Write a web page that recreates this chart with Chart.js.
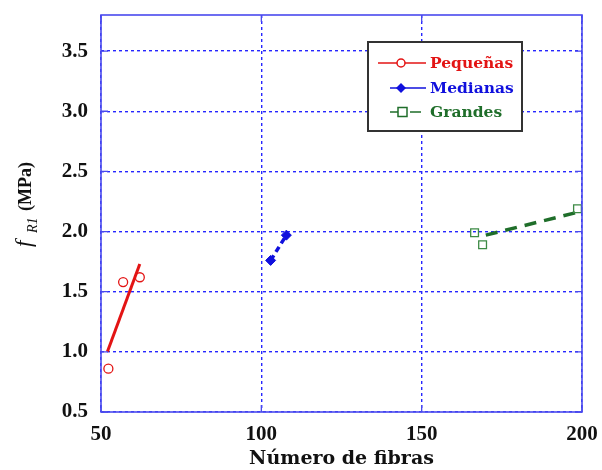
<!DOCTYPE html>
<html>
<head>
<meta charset="utf-8">
<script src="https://cdn.jsdelivr.net/npm/chart.js@4/dist/chart.umd.min.js"></script>
<style>
  html, body { margin: 0; padding: 0; background: #fff; }
  #wrap { width: 602px; height: 470px; }
</style>
</head>
<body>
<div id="wrap"><canvas id="chart" width="602" height="470"></canvas></div>
<script>
// Data
const pequenasX = [52.3, 56.9, 62.1];
const pequenasY = [0.86, 1.58, 1.62];
const pequenasFitX = [52, 62.1];
const pequenasFitY = [1.0, 1.73];

const medianasX = [102.9, 107.8];
const medianasY = [1.76, 1.97];

const grandesX = [166.5, 169.0, 198.6];
const grandesY = [1.99, 1.89, 2.19];
const grandesFitX = [170, 200];
const grandesFitY = [1.97, 2.17];

const seriesNames = ['Pequeñas', 'Medianas', 'Grandes'];
const xTicks = [50, 100, 150, 200];
const yTicks = [0.5, 1.0, 1.5, 2.0, 2.5, 3.0, 3.5];

const RED = '#e31414';
const BLUE = '#1010dd';
const GREEN = '#1f6e2a';
const GRID = '#2626ff';

const pts = (xs, ys) => xs.map((x, i) => ({ x: x, y: ys[i] }));

// frame, inner tick stubs, y title and legend box
const decorations = {
    id: 'decorations',
    afterDraw(chart) {
        const ctx = chart.ctx;
        const a = chart.chartArea;
        const xs = chart.scales.x, ys = chart.scales.y;
        ctx.save();
        ctx.strokeStyle = '#4a4aee';
        ctx.lineWidth = 1.6;
        ctx.strokeRect(a.left, a.top, a.right - a.left, a.bottom - a.top);
        ctx.lineWidth = 1.3;
        ctx.beginPath();
        xTicks.forEach(v => {
            const px = xs.getPixelForValue(v);
            ctx.moveTo(px, a.bottom); ctx.lineTo(px, a.bottom - 7);
            ctx.moveTo(px, a.top); ctx.lineTo(px, a.top + 7);
        });
        yTicks.forEach(v => {
            const py = ys.getPixelForValue(v);
            ctx.moveTo(a.left, py); ctx.lineTo(a.left + 7, py);
            ctx.moveTo(a.right, py); ctx.lineTo(a.right - 7, py);
        });
        ctx.stroke();

        // y axis title: f_R1 (MPa)
        ctx.translate(31, 0);
        ctx.rotate(-Math.PI / 2);
        ctx.fillStyle = '#111';
        ctx.textBaseline = 'alphabetic';
        ctx.textAlign = 'left';
        ctx.font = 'italic 23px "Liberation Serif"';
        ctx.fillText('f', -247, 0);
        ctx.font = 'italic 14px "Liberation Serif"';
        ctx.fillText('R1', -233, 6);
        ctx.font = 'bold 18px "Liberation Serif"';
        ctx.fillText('(MPa)', -211, 0);
        ctx.restore();

        // legend
        ctx.save();
        const bx = 368, by = 42, bw = 154, bh = 89;
        ctx.fillStyle = '#fff';
        ctx.fillRect(bx, by, bw, bh);
        ctx.strokeStyle = '#333';
        ctx.lineWidth = 2;
        ctx.strokeRect(bx, by, bw, bh);
        const rows = [63, 88, 112];
        const colors = [RED, BLUE, GREEN];
        ctx.lineWidth = 1.5;
        // Pequeñas sample
        ctx.strokeStyle = RED;
        ctx.beginPath(); ctx.moveTo(378, rows[0]); ctx.lineTo(426, rows[0]); ctx.stroke();
        ctx.fillStyle = '#fff';
        ctx.beginPath(); ctx.arc(401, rows[0], 4, 0, Math.PI * 2); ctx.fill(); ctx.stroke();
        // Medianas sample
        ctx.strokeStyle = BLUE; ctx.fillStyle = BLUE;
        ctx.beginPath(); ctx.moveTo(390, rows[1]); ctx.lineTo(426, rows[1]); ctx.stroke();
        ctx.beginPath();
        ctx.moveTo(401, rows[1] - 5); ctx.lineTo(406, rows[1]); ctx.lineTo(401, rows[1] + 5); ctx.lineTo(396, rows[1]);
        ctx.closePath(); ctx.fill();
        // Grandes sample
        ctx.strokeStyle = GREEN;
        ctx.beginPath();
        ctx.moveTo(390, rows[2]); ctx.lineTo(398, rows[2]);
        ctx.moveTo(410, rows[2]); ctx.lineTo(421, rows[2]);
        ctx.stroke();
        ctx.strokeRect(398, rows[2] - 4.5, 9, 9);
        // texts
        ctx.font = 'bold 15.5px "DejaVu Serif"';
        ctx.textBaseline = 'middle';
        ctx.textAlign = 'left';
        seriesNames.forEach((n, i) => {
            ctx.fillStyle = colors[i];
            ctx.fillText(n, 430, rows[i] + 1);
        });
        ctx.restore();
    }
};

new Chart(document.getElementById('chart'), {
    type: 'scatter',
    data: {
        datasets: [
            {
                label: seriesNames[0],
                data: pts(pequenasX, pequenasY),
                showLine: false,
                pointStyle: 'circle',
                pointRadius: 4.5,
                pointBorderWidth: 1.3,
                pointBorderColor: RED,
                pointBackgroundColor: 'rgba(255,255,255,0)'
            },
            {
                label: seriesNames[0] + ' ajuste',
                data: pts(pequenasFitX, pequenasFitY),
                showLine: true,
                pointRadius: 0,
                borderColor: RED,
                borderWidth: 3
            },
            {
                label: seriesNames[1],
                data: pts(medianasX, medianasY),
                showLine: true,
                borderColor: BLUE,
                borderWidth: 3.5,
                borderDash: [6, 4],
                pointStyle: 'rectRot',
                pointRadius: 5,
                pointBorderWidth: 1,
                pointBorderColor: BLUE,
                pointBackgroundColor: BLUE
            },
            {
                label: seriesNames[2],
                data: pts(grandesX, grandesY),
                showLine: false,
                pointStyle: 'rect',
                pointRadius: 5.5,
                pointBorderWidth: 1.3,
                pointBorderColor: '#3d8a45',
                pointBackgroundColor: 'rgba(255,255,255,0)'
            },
            {
                label: seriesNames[2] + ' ajuste',
                data: pts(grandesFitX, grandesFitY),
                showLine: true,
                pointRadius: 0,
                borderColor: GREEN,
                borderWidth: 3.5,
                borderDash: [12, 8]
            }
        ]
    },
    options: {
        responsive: false,
        animation: false,
        events: [],
        layout: { padding: { left: 0, right: 20, top: 15, bottom: 0 } },
        plugins: {
            legend: { display: false },
            tooltip: { enabled: false }
        },
        scales: {
            x: {
                type: 'linear',
                min: 50,
                max: 200,
                afterFit: (s) => { s.height = 58; s.paddingLeft = 0; s.paddingRight = 0; },
                afterBuildTicks: (s) => { s.ticks = xTicks.map(v => ({ value: v })); },
                grid: {
                    color: GRID,
                    lineWidth: 1.4,
                    drawTicks: false
                },
                border: { display: false, dash: [3, 3] },
                ticks: {
                    padding: 10,
                    color: '#111',
                    font: { family: 'Liberation Serif', weight: 'bold', size: 21 }
                },
                title: {
                    display: true,
                    text: 'Número de fibras',
                    color: '#111',
                    font: { family: 'DejaVu Serif', weight: 'bold', size: 19 },
                    padding: { top: 0, bottom: 0 }
                }
            },
            y: {
                type: 'linear',
                min: 0.5,
                max: 3.8,
                afterFit: (s) => { s.width = 101; s.paddingTop = 0; s.paddingBottom = 0; },
                afterBuildTicks: (s) => { s.ticks = yTicks.map(v => ({ value: v })); },
                grid: {
                    color: GRID,
                    lineWidth: 1.4,
                    drawTicks: false
                },
                border: { display: false, dash: [3, 3] },
                ticks: {
                    padding: 13,
                    color: '#111',
                    callback: (v) => v.toFixed(1),
                    font: { family: 'Liberation Serif', weight: 'bold', size: 21 }
                }
            }
        }
    },
    plugins: [decorations]
});
</script>
</body>
</html>
